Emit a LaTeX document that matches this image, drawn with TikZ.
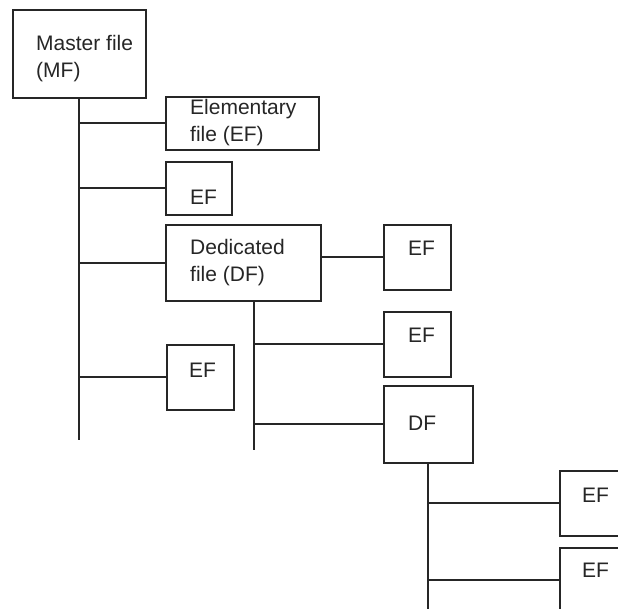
\documentclass[tikz,border=0pt]{standalone}
\usepackage{fontspec}
\setmainfont{Liberation Sans}
\definecolor{ink}{gray}{0.15}
\begin{document}
\begin{tikzpicture}[x=1pt,y=-1pt,
  box/.style n args={2}{draw=ink,line width=1.8pt,minimum width=#1pt,minimum height=#2pt,inner sep=0pt,anchor=north west},
  txt/.style={anchor=west,inner sep=0pt,align=left,text=ink,font=\fontsize{21}{27}\selectfont},
  wire/.style={draw=ink,line width=2pt}]
\clip (0,0) rectangle (618,608);
\fill[white] (0,0) rectangle (618,608);
% boxes
\node[box={133}{88}] (mf) at (12,9) {};
\node[box={153}{53}] (ef1) at (165,96) {};
\node[box={66}{53}] (ef2) at (165,161) {};
\node[box={155}{76}] (df1) at (165,224) {};
\node[box={67}{65}] (ef3) at (166,344) {};
\node[box={67}{65}] (ef4) at (383,224) {};
\node[box={67}{65}] (ef5) at (383,311) {};
\node[box={89}{77}] (df2) at (383,385) {};
\node[box={70}{65}] (ef6) at (559,470) {};
\node[box={70}{65}] (ef7) at (559,547) {};
% texts
\node[txt] (t1) at (36,59) {Master file\\(MF)};
\node[txt] (t2) at (190,123) {Elementary\\file (EF)};
\node[txt] (t3) at (190,197) {EF};
\node[txt] (t4) at (190,263) {Dedicated\\file (DF)};
\node[txt] (t5) at (189,370) {EF};
\node[txt] (t6) at (408,248) {EF};
\node[txt] (t7) at (408,335) {EF};
\node[txt] (t8) at (408,423) {DF};
\node[txt] (t9) at (582,495) {EF};
\node[txt] (t10) at (582,570) {EF};
% trunks
\coordinate (mfend) at (79,440);
\coordinate (df1end) at (254,450);
\coordinate (df2end) at (428,612);
\draw[wire] (mf.south -| mfend) -- (mfend);
\draw[wire] (df1.south -| df1end) -- (df1end);
\draw[wire] (df2.south -| df2end) -- (df2end);
% branches
\draw[wire] (ef1.west -| mfend) -- (ef1.west);
\draw[wire] (ef2.west -| mfend) -- (ef2.west);
\draw[wire] (df1.west -| mfend) -- (df1.west);
\draw[wire] (ef3.west -| mfend) -- (ef3.west);
\draw[wire] (df1.east |- ef4.west) -- (ef4.west);
\draw[wire] (ef5.west -| df1end) -- (ef5.west);
\draw[wire] (df2.west -| df1end) -- (df2.west);
\draw[wire] (ef6.west -| df2end) -- (ef6.west);
\draw[wire] (ef7.west -| df2end) -- (ef7.west);
\end{tikzpicture}
\end{document}
